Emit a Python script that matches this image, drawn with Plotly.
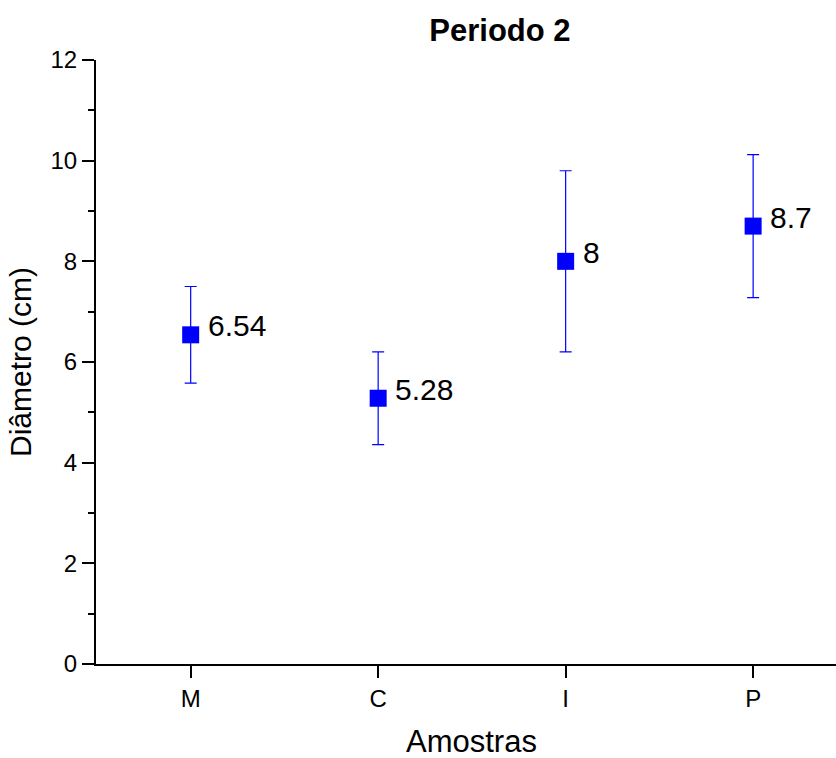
import plotly.graph_objects as go

categories = ["M", "C", "I", "P"]
means = [6.54, 5.28, 8.0, 8.7]
errors = [0.96, 0.92, 1.8, 1.42]
labels = ["6.54", "5.28", "8", "8.7"]

FONT = "Arial, Liberation Sans, sans-serif"

fig = go.Figure()
fig.add_trace(go.Scatter(
    x=categories, y=means, mode="markers",
    marker=dict(symbol="square", size=17, color="#0000FF"),
    error_y=dict(type="data", array=errors, visible=True, color="#0000FF",
                 thickness=1.2, width=6),
    showlegend=False, hoverinfo="skip",
))

for c, m, t in zip(categories, means, labels):
    fig.add_annotation(x=c, y=m, text=t, showarrow=False, xanchor="left",
                       yanchor="middle", xshift=15, yshift=9,
                       font=dict(family=FONT, size=30, color="black"))

fig.add_annotation(x=0.507, y=-0.1275, xref="paper", yref="paper",
                   text="Amostras", showarrow=False, xanchor="center",
                   yanchor="middle",
                   font=dict(family=FONT, size=31, color="black"))

fig.update_layout(
    width=836, height=758,
    margin=dict(l=96, r=0, t=60, b=94),
    plot_bgcolor="white", paper_bgcolor="white",
    font=dict(family=FONT, color="black"),
    title=dict(text="<b>Periodo 2</b>", x=0.598, xanchor="center",
               y=0.96, yanchor="middle",
               font=dict(family=FONT, size=31, color="black")),
)
fig.update_xaxes(
    type="category", range=[-0.505, 3.442],
    showline=True, linecolor="black", linewidth=2,
    ticks="outside", ticklen=12, tickwidth=2, tickcolor="black",
    showgrid=False, zeroline=False,
    tickfont=dict(family=FONT, size=24, color="black"),
)
fig.update_yaxes(
    range=[0, 12], tickvals=[0, 2, 4, 6, 8, 10, 12],
    showline=True, linecolor="black", linewidth=2,
    ticks="outside", ticklen=12, tickwidth=2, tickcolor="black",
    minor=dict(ticks="outside", ticklen=6, tickwidth=2, tickcolor="black",
               tickvals=[1, 3, 5, 7, 9, 11], showgrid=False),
    showgrid=False, zeroline=False,
    tickfont=dict(family=FONT, size=24, color="black"),
    title=dict(text="Diâmetro (cm)", font=dict(family=FONT, size=30, color="black"),
               standoff=10),
)

fig.write_html("out.html")
